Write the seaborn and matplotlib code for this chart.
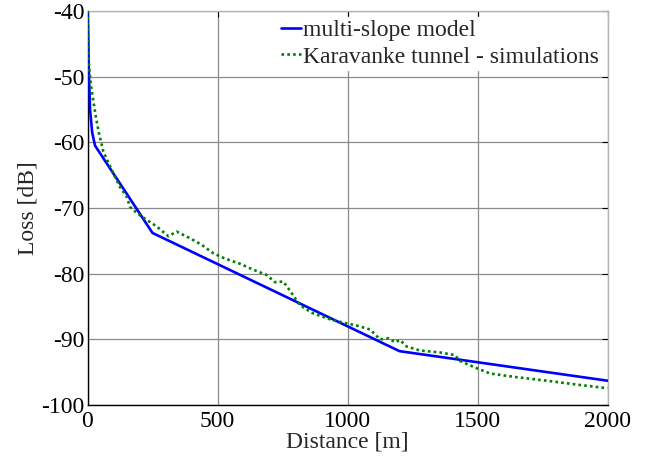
import numpy as np
import pandas as pd
import matplotlib
matplotlib.use("Agg")
import matplotlib.pyplot as plt
import seaborn as sns

# ---- data ----
model_dist = [0, 2, 5, 10, 18, 29, 250, 1200, 2000]
model_loss = [-40, -43.0, -49.0, -55.1, -58.5, -60.5, -73.8, -91.8, -96.3]

sim_dist = [0, 3, 6, 14, 22, 33, 44, 61, 93, 125, 151, 163, 176, 208, 266,
            311, 343, 394, 439, 484, 529, 587, 638, 689, 721, 753, 779, 817,
            865, 940, 1000, 1035, 1087, 1125, 1157, 1183, 1202, 1228, 1279,
            1356, 1413, 1433, 1497, 1548, 1638, 1766, 1894, 2000]
sim_loss = [-40, -45.0, -48.5, -51.5, -53.6, -56.3, -58.6, -61.4, -64.2, -66.8,
            -68.3, -69.8, -70.3, -71.3, -72.8, -74.3, -73.6, -74.6, -75.6,
            -76.9, -77.7, -78.5, -79.4, -80.2, -81.3, -81.2, -82.6, -84.8,
            -86.0, -87.05, -87.6, -87.9, -88.5, -90.0, -89.85, -90.45, -90.1,
            -91.1, -91.7, -92.0, -92.4, -93.3, -94.4, -95.2, -95.7, -96.3,
            -96.95, -97.45]

x_ticks = [0, 500, 1000, 1500, 2000]
y_ticks = [-100, -90, -80, -70, -60, -50, -40]

label_model = "multi-slope model"
label_sim = "Karavanke tunnel - simulations"

# ---- style ----
sns.set_style("white")
plt.rcParams['font.family'] = ['Liberation Serif', 'DejaVu Serif']
FS = 17
plt.rcParams['font.size'] = FS

fig = plt.figure(figsize=(6.45, 4.58), dpi=100)
ax = fig.add_axes([87.5 / 645, 1 - 405 / 458, 520 / 645, 394 / 458])

df_model = pd.DataFrame({"Distance": model_dist, "Loss": model_loss})
df_sim = pd.DataFrame({"Distance": sim_dist, "Loss": sim_loss})

sns.lineplot(data=df_model, x="Distance", y="Loss", ax=ax, color="#0000ff",
             linewidth=1.9, label=label_model, sort=False, zorder=3)
sns.lineplot(data=df_sim, x="Distance", y="Loss", ax=ax, color="#008000",
             linewidth=1.9, linestyle=(0, (1, 1.2)), label=label_sim,
             sort=False, zorder=3)

ax.set_xlim(0, 2000)
ax.set_ylim(-100, -40)
ax.set_xticks(x_ticks)
ax.set_yticks(y_ticks)
ax.set_xticklabels([str(t) for t in x_ticks])
ax.set_yticklabels([str(t) for t in y_ticks])

ax.grid(True, color="#8a8a8a", linewidth=0.9, zorder=0)
ax.set_axisbelow(True)

for s in ["left", "bottom"]:
    ax.spines[s].set_color("black")
    ax.spines[s].set_linewidth(1.0)
for s in ["top", "right"]:
    ax.spines[s].set_color("#b5b5b5")
    ax.spines[s].set_linewidth(1.0)

ax.tick_params(direction="in", length=4, width=0.8, top=True, right=True,
               labelsize=FS, colors="black", pad=2)
ax.tick_params(axis="x", pad=4)

ax.set_xlabel("Distance [m]", fontsize=FS, labelpad=0)
ax.set_ylabel("Loss [dB]", fontsize=FS, labelpad=2)

leg = ax.legend(loc="upper right", frameon=True, fancybox=False,
                framealpha=1, facecolor="white", edgecolor="white",
                handlelength=0.85, handletextpad=0.1, borderaxespad=0.25,
                labelspacing=0.22, borderpad=0.1, fontsize=FS)
leg.set_zorder(5)

fig.savefig("out.png", dpi=100)
